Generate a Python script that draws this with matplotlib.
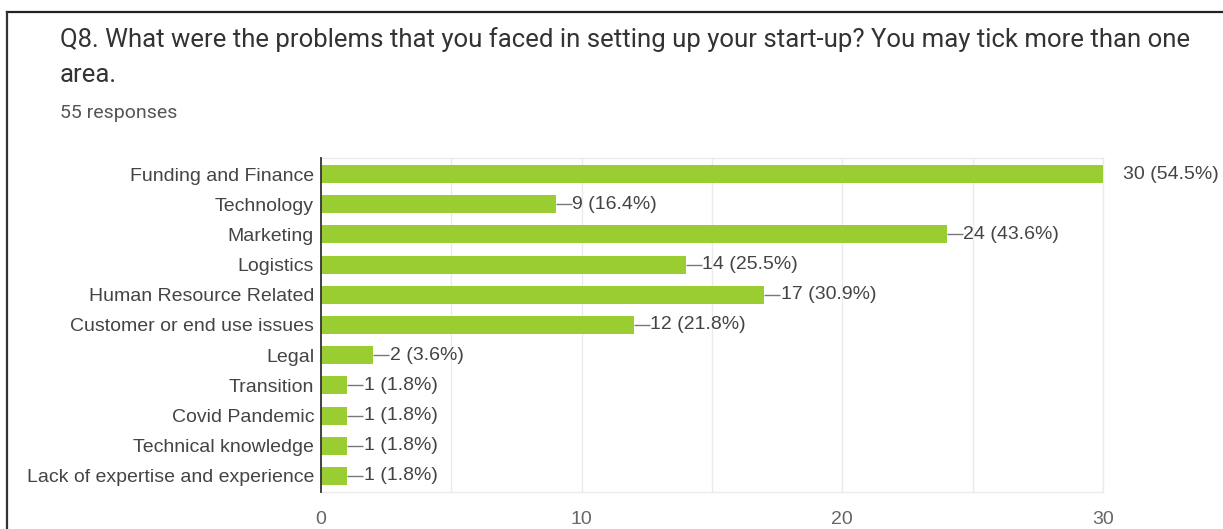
import matplotlib
matplotlib.use("Agg")
import matplotlib.pyplot as plt
from matplotlib.lines import Line2D

categories = [
    "Funding and Finance",
    "Technology",
    "Marketing",
    "Logistics",
    "Human Resource Related",
    "Customer or end use issues",
    "Legal",
    "Transition",
    "Covid Pandemic",
    "Technical knowledge",
    "Lack of expertise and experience",
]
counts = [30, 9, 24, 14, 17, 12, 2, 1, 1, 1, 1]
total_responses = 55
x_ticks = [0, 10, 20, 30]
x_grid = [5, 10, 15, 20, 25, 30]

title_line1 = "Q8. What were the problems that you faced in setting up your start-up? You may tick more than one"
title_line2 = "area."
subtitle = f"{total_responses} responses"

BAR = "#9acd32"
LABEL = "#444444"
TICK = "#666666"
GRID = "#ebebeb"

W, H = 1223, 529
fig = plt.figure(figsize=(W / 100, H / 100), dpi=100)
fig.patch.set_facecolor("white")

# card border (top and left edges)
fig.add_artist(Line2D([7 / W, 1.0], [1 - 12 / H, 1 - 12 / H], color="#222222", lw=1.6))
fig.add_artist(Line2D([7 / W, 7 / W], [0, 1 - 12 / H], color="#333333", lw=1.6))

fig.text(60 / W, 1 - 40 / H, title_line1, fontsize=18.5, family="Roboto",
         color="#333333", va="center", ha="left")
fig.text(60 / W, 1 - 75 / H, title_line2, fontsize=18.5, family="Roboto",
         color="#333333", va="center", ha="left")
fig.text(60 / W, 1 - 113 / H, subtitle, fontsize=14, family="Roboto",
         color="#555555", va="center", ha="left")

left, right = 321 / W, 1103 / W
top, bottom = 1 - 158 / H, 1 - 492 / H
ax = fig.add_axes([left, bottom, right - left, top - bottom])

y = list(range(len(categories)))
ax.barh(y, counts, height=0.6, color=BAR, zorder=3)
ax.set_xlim(0, 30)
ax.set_ylim(len(categories) - 0.47, -0.53)

for g in x_grid:
    ax.axvline(g, color=GRID, lw=1, zorder=1)

for s in ("top", "right", "bottom"):
    ax.spines[s].set_color(GRID)
    ax.spines[s].set_linewidth(1)
ax.spines["left"].set_color("#333333")
ax.spines["left"].set_linewidth(1.3)
ax.spines["left"].set_zorder(4)

FS = 14
ax.set_yticks(y)
ax.set_yticklabels(categories, family="Liberation Sans", fontsize=FS, color=LABEL)
ax.set_xticks(x_ticks)
ax.set_xticklabels([str(t) for t in x_ticks], family="Liberation Sans",
                   fontsize=FS, color=TICK)
ax.tick_params(axis="both", length=0)
ax.tick_params(axis="y", pad=5)
ax.tick_params(axis="x", pad=14)

px = 30 / (1103 - 321)  # data units per pixel
for yi, c in zip(y, counts):
    label = f"{c} ({c / total_responses * 100:.1f}%)"
    if c >= 30:
        ax.text(c + 20 * px, yi, label, va="center", ha="left", fontsize=FS,
                family="Liberation Sans", color=LABEL, clip_on=False)
    else:
        ax.plot([c, c + 16 * px], [yi, yi], color="#777777", lw=1, zorder=3,
                solid_capstyle="butt")
        ax.text(c + 16.5 * px, yi, label, va="center", ha="left", fontsize=FS,
                family="Liberation Sans", color=LABEL, clip_on=False)

fig.savefig("out.png", dpi=100, facecolor="white")
